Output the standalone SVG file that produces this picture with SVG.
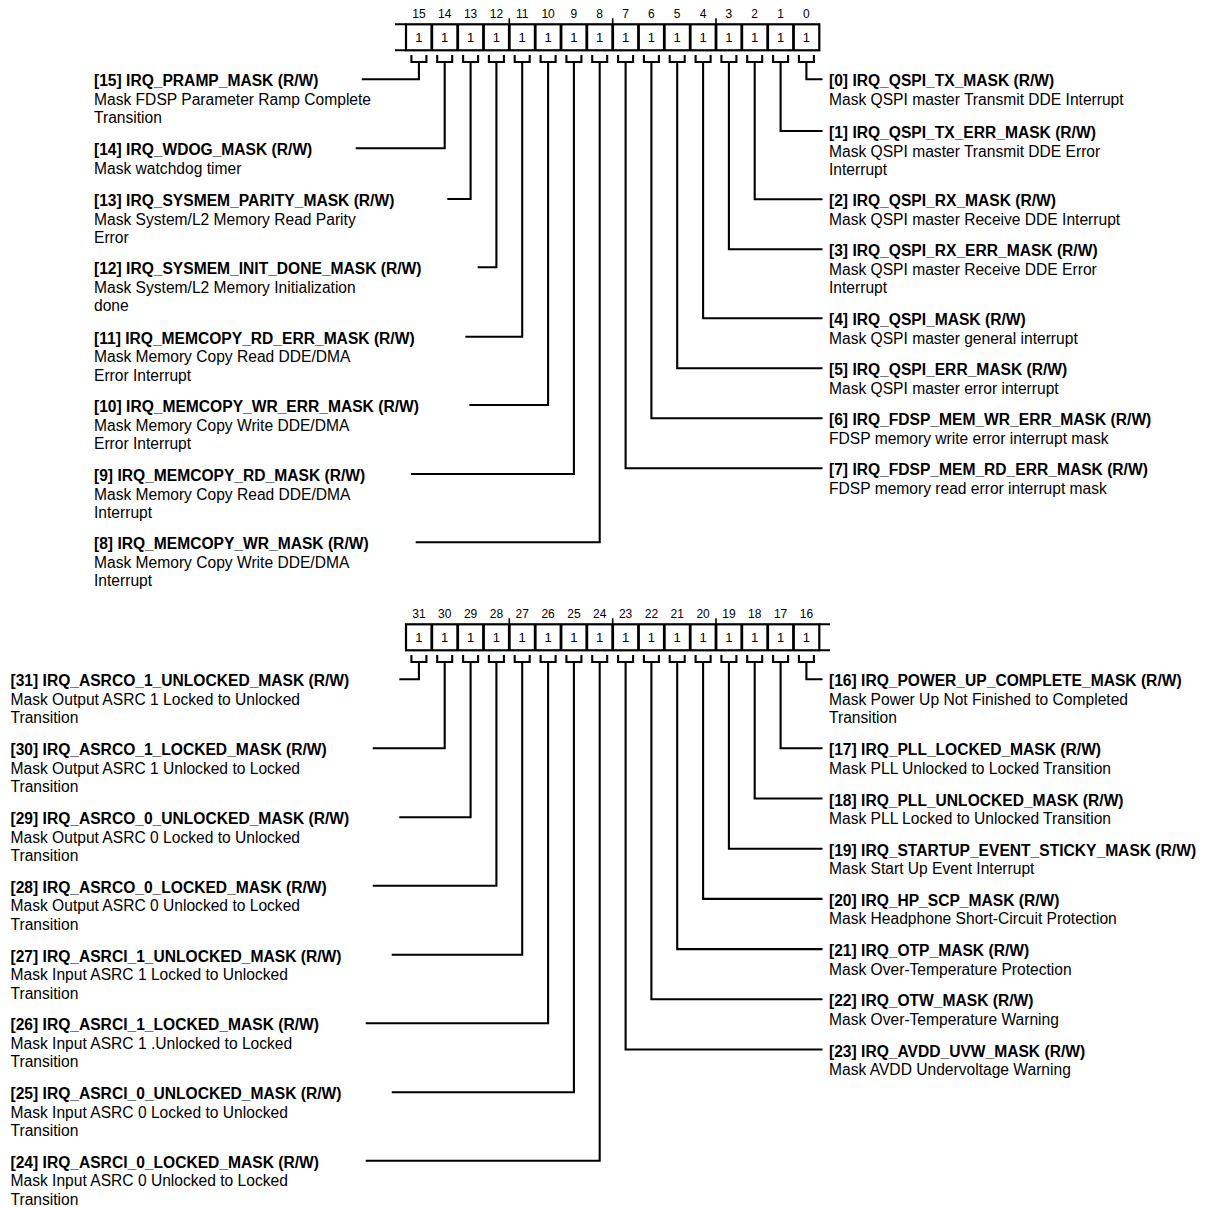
<svg xmlns="http://www.w3.org/2000/svg" width="1206" height="1207" viewBox="0 0 1206 1207">
<style>
.t{font:bold 15.6px "Liberation Sans",Arial,sans-serif;fill:#000}
.d{font:15.6px "Liberation Sans",Arial,sans-serif;fill:#000}
.n{font:12px "Liberation Sans",Arial,sans-serif;fill:#000;text-anchor:middle}
.v{font:13px "Liberation Sans",Arial,sans-serif;fill:#000;text-anchor:middle}
.f{fill:#fff;stroke:#000;stroke-width:2.2}
.dv{stroke:#000;stroke-width:2.8;fill:none}
.tk{stroke:#000;stroke-width:1.6;fill:none}
.c{fill:none;stroke:#000;stroke-width:2.1}
</style>
<rect width="1206" height="1207" fill="#fff"/>

<g id="register-low">
<path class="c" d="M395,24.3H406M395,50.3H406"/>
<rect class="f" x="406" y="24.3" width="413.3" height="26"/>
<path class="dv" d="M431.8,24.3V50.3M457.7,24.3V50.3M483.5,24.3V50.3M509.3,24.3V50.3M535.2,24.3V50.3M561,24.3V50.3M586.8,24.3V50.3M612.7,24.3V50.3M638.5,24.3V50.3M664.3,24.3V50.3M690.2,24.3V50.3M716,24.3V50.3M741.8,24.3V50.3M767.7,24.3V50.3M793.5,24.3V50.3"/>
<path class="tk" d="M509.3,18.3V24.3M612.7,18.3V24.3M716,18.3V24.3"/>
<text class="n" x="418.9" y="17.5">15</text><text class="n" x="444.7" y="17.5">14</text><text class="n" x="470.6" y="17.5">13</text><text class="n" x="496.4" y="17.5">12</text><text class="n" x="522.2" y="17.5">11</text><text class="n" x="548.1" y="17.5">10</text><text class="n" x="573.9" y="17.5">9</text><text class="n" x="599.7" y="17.5">8</text><text class="n" x="625.6" y="17.5">7</text><text class="n" x="651.4" y="17.5">6</text><text class="n" x="677.2" y="17.5">5</text><text class="n" x="703.1" y="17.5">4</text><text class="n" x="728.9" y="17.5">3</text><text class="n" x="754.7" y="17.5">2</text><text class="n" x="780.6" y="17.5">1</text><text class="n" x="806.4" y="17.5">0</text>
<text class="v" x="418.9" y="42">1</text><text class="v" x="444.7" y="42">1</text><text class="v" x="470.6" y="42">1</text><text class="v" x="496.4" y="42">1</text><text class="v" x="522.2" y="42">1</text><text class="v" x="548.1" y="42">1</text><text class="v" x="573.9" y="42">1</text><text class="v" x="599.7" y="42">1</text><text class="v" x="625.6" y="42">1</text><text class="v" x="651.4" y="42">1</text><text class="v" x="677.2" y="42">1</text><text class="v" x="703.1" y="42">1</text><text class="v" x="728.9" y="42">1</text><text class="v" x="754.7" y="42">1</text><text class="v" x="780.6" y="42">1</text><text class="v" x="806.4" y="42">1</text>
</g>

<g id="register-high">
<path class="c" d="M819.3,624.3H830M819.3,650.3H830"/>
<rect class="f" x="406" y="624.3" width="413.3" height="26"/>
<path class="dv" d="M431.8,624.3V650.3M457.7,624.3V650.3M483.5,624.3V650.3M509.3,624.3V650.3M535.2,624.3V650.3M561,624.3V650.3M586.8,624.3V650.3M612.7,624.3V650.3M638.5,624.3V650.3M664.3,624.3V650.3M690.2,624.3V650.3M716,624.3V650.3M741.8,624.3V650.3M767.7,624.3V650.3M793.5,624.3V650.3"/>
<path class="tk" d="M509.3,618.3V624.3M612.7,618.3V624.3M716,618.3V624.3"/>
<text class="n" x="418.9" y="617.5">31</text><text class="n" x="444.7" y="617.5">30</text><text class="n" x="470.6" y="617.5">29</text><text class="n" x="496.4" y="617.5">28</text><text class="n" x="522.2" y="617.5">27</text><text class="n" x="548.1" y="617.5">26</text><text class="n" x="573.9" y="617.5">25</text><text class="n" x="599.7" y="617.5">24</text><text class="n" x="625.6" y="617.5">23</text><text class="n" x="651.4" y="617.5">22</text><text class="n" x="677.2" y="617.5">21</text><text class="n" x="703.1" y="617.5">20</text><text class="n" x="728.9" y="617.5">19</text><text class="n" x="754.7" y="617.5">18</text><text class="n" x="780.6" y="617.5">17</text><text class="n" x="806.4" y="617.5">16</text>
<text class="v" x="418.9" y="642">1</text><text class="v" x="444.7" y="642">1</text><text class="v" x="470.6" y="642">1</text><text class="v" x="496.4" y="642">1</text><text class="v" x="522.2" y="642">1</text><text class="v" x="548.1" y="642">1</text><text class="v" x="573.9" y="642">1</text><text class="v" x="599.7" y="642">1</text><text class="v" x="625.6" y="642">1</text><text class="v" x="651.4" y="642">1</text><text class="v" x="677.2" y="642">1</text><text class="v" x="703.1" y="642">1</text><text class="v" x="728.9" y="642">1</text><text class="v" x="754.7" y="642">1</text><text class="v" x="780.6" y="642">1</text><text class="v" x="806.4" y="642">1</text>
</g>

<g id="connectors" class="c">
<path d="M411.4,55V62H426.4V55M418.9,62V79.3H361.7"/>
<path d="M437.2,55V62H452.2V55M444.7,62V148.3H355.7"/>
<path d="M463.1,55V62H478.1V55M470.6,62V199H447.3"/>
<path d="M488.9,55V62H503.9V55M496.4,62V267.3H477.7"/>
<path d="M514.7,55V62H529.7V55M522.2,62V336.7H465.3"/>
<path d="M540.6,55V62H555.6V55M548.1,62V405H469.3"/>
<path d="M566.4,55V62H581.4V55M573.9,62V474H411"/>
<path d="M592.2,55V62H607.2V55M599.7,62V542.3H415.7"/>
<path d="M618.1,55V62H633.1V55M625.6,62V468.3H822.5"/>
<path d="M643.9,55V62H658.9V55M651.4,62V418.3H822.5"/>
<path d="M669.7,55V62H684.7V55M677.2,62V368.3H822.5"/>
<path d="M695.6,55V62H710.6V55M703.1,62V318.3H822.5"/>
<path d="M721.4,55V62H736.4V55M728.9,62V249.3H822.5"/>
<path d="M747.2,55V62H762.2V55M754.7,62V199.3H822.5"/>
<path d="M773.1,55V62H788.1V55M780.6,62V131H822.5"/>
<path d="M798.9,55V62H813.9V55M806.4,62V79.3H822.5"/>

<path d="M411.4,655V662H426.4V655M418.9,662V679.3H399.3"/>
<path d="M437.2,655V662H452.2V655M444.7,662V748.3H372.7"/>
<path d="M463.1,655V662H478.1V655M470.6,662V817.3H399.3"/>
<path d="M488.9,655V662H503.9V655M496.4,662V885.7H372.7"/>
<path d="M514.7,655V662H529.7V655M522.2,662V954.7H391.7"/>
<path d="M540.6,655V662H555.6V655M548.1,662V1023.3H365.7"/>
<path d="M566.4,655V662H581.4V655M573.9,662V1092.3H391.7"/>
<path d="M592.2,655V662H607.2V655M599.7,662V1160.7H365.7"/>
<path d="M618.1,655V662H633.1V655M625.6,662V1049.5H822.5"/>
<path d="M643.9,655V662H658.9V655M651.4,662V999.3H822.5"/>
<path d="M669.7,655V662H684.7V655M677.2,662V949.1H822.5"/>
<path d="M695.6,655V662H710.6V655M703.1,662V898.9H822.5"/>
<path d="M721.4,655V662H736.4V655M728.9,662V848.7H822.5"/>
<path d="M747.2,655V662H762.2V655M754.7,662V798.5H822.5"/>
<path d="M773.1,655V662H788.1V655M780.6,662V748.3H822.5"/>
<path d="M798.9,655V662H813.9V655M806.4,662V679.3H822.5"/>
</g>

<g id="bit15"><text class="t" x="94" y="86.3">[15] IRQ_PRAMP_MASK (R/W)</text><text class="d" x="94" y="104.8">Mask FDSP Parameter Ramp Complete</text><text class="d" x="94" y="123.3">Transition</text></g>
<g id="bit14"><text class="t" x="94" y="155.3">[14] IRQ_WDOG_MASK (R/W)</text><text class="d" x="94" y="173.8">Mask watchdog timer</text></g>
<g id="bit13"><text class="t" x="94" y="206">[13] IRQ_SYSMEM_PARITY_MASK (R/W)</text><text class="d" x="94" y="224.5">Mask System/L2 Memory Read Parity</text><text class="d" x="94" y="243">Error</text></g>
<g id="bit12"><text class="t" x="94" y="274.3">[12] IRQ_SYSMEM_INIT_DONE_MASK (R/W)</text><text class="d" x="94" y="292.8">Mask System/L2 Memory Initialization</text><text class="d" x="94" y="311.3">done</text></g>
<g id="bit11"><text class="t" x="94" y="343.7">[11] IRQ_MEMCOPY_RD_ERR_MASK (R/W)</text><text class="d" x="94" y="362.2">Mask Memory Copy Read DDE/DMA</text><text class="d" x="94" y="380.7">Error Interrupt</text></g>
<g id="bit10"><text class="t" x="94" y="412">[10] IRQ_MEMCOPY_WR_ERR_MASK (R/W)</text><text class="d" x="94" y="430.5">Mask Memory Copy Write DDE/DMA</text><text class="d" x="94" y="449">Error Interrupt</text></g>
<g id="bit9"><text class="t" x="94" y="481">[9] IRQ_MEMCOPY_RD_MASK (R/W)</text><text class="d" x="94" y="499.5">Mask Memory Copy Read DDE/DMA</text><text class="d" x="94" y="518">Interrupt</text></g>
<g id="bit8"><text class="t" x="94" y="549.3">[8] IRQ_MEMCOPY_WR_MASK (R/W)</text><text class="d" x="94" y="567.8">Mask Memory Copy Write DDE/DMA</text><text class="d" x="94" y="586.3">Interrupt</text></g>

<g id="bit0"><text class="t" x="829" y="86.3">[0] IRQ_QSPI_TX_MASK (R/W)</text><text class="d" x="829" y="104.8">Mask QSPI master Transmit DDE Interrupt</text></g>
<g id="bit1"><text class="t" x="829" y="138">[1] IRQ_QSPI_TX_ERR_MASK (R/W)</text><text class="d" x="829" y="156.5">Mask QSPI master Transmit DDE Error</text><text class="d" x="829" y="175">Interrupt</text></g>
<g id="bit2"><text class="t" x="829" y="206.3">[2] IRQ_QSPI_RX_MASK (R/W)</text><text class="d" x="829" y="224.8">Mask QSPI master Receive DDE Interrupt</text></g>
<g id="bit3"><text class="t" x="829" y="256.3">[3] IRQ_QSPI_RX_ERR_MASK (R/W)</text><text class="d" x="829" y="274.8">Mask QSPI master Receive DDE Error</text><text class="d" x="829" y="293.3">Interrupt</text></g>
<g id="bit4"><text class="t" x="829" y="325.3">[4] IRQ_QSPI_MASK (R/W)</text><text class="d" x="829" y="343.8">Mask QSPI master general interrupt</text></g>
<g id="bit5"><text class="t" x="829" y="375.3">[5] IRQ_QSPI_ERR_MASK (R/W)</text><text class="d" x="829" y="393.8">Mask QSPI master error interrupt</text></g>
<g id="bit6"><text class="t" x="829" y="425.3">[6] IRQ_FDSP_MEM_WR_ERR_MASK (R/W)</text><text class="d" x="829" y="443.8">FDSP memory write error interrupt mask</text></g>
<g id="bit7"><text class="t" x="829" y="475.3">[7] IRQ_FDSP_MEM_RD_ERR_MASK (R/W)</text><text class="d" x="829" y="493.8">FDSP memory read error interrupt mask</text></g>

<g id="bit31"><text class="t" x="10.5" y="686.3">[31] IRQ_ASRCO_1_UNLOCKED_MASK (R/W)</text><text class="d" x="10.5" y="704.8">Mask Output ASRC 1 Locked to Unlocked</text><text class="d" x="10.5" y="723.3">Transition</text></g>
<g id="bit30"><text class="t" x="10.5" y="755.3">[30] IRQ_ASRCO_1_LOCKED_MASK (R/W)</text><text class="d" x="10.5" y="773.8">Mask Output ASRC 1 Unlocked to Locked</text><text class="d" x="10.5" y="792.3">Transition</text></g>
<g id="bit29"><text class="t" x="10.5" y="824.3">[29] IRQ_ASRCO_0_UNLOCKED_MASK (R/W)</text><text class="d" x="10.5" y="842.8">Mask Output ASRC 0 Locked to Unlocked</text><text class="d" x="10.5" y="861.3">Transition</text></g>
<g id="bit28"><text class="t" x="10.5" y="892.7">[28] IRQ_ASRCO_0_LOCKED_MASK (R/W)</text><text class="d" x="10.5" y="911.2">Mask Output ASRC 0 Unlocked to Locked</text><text class="d" x="10.5" y="929.7">Transition</text></g>
<g id="bit27"><text class="t" x="10.5" y="961.7">[27] IRQ_ASRCI_1_UNLOCKED_MASK (R/W)</text><text class="d" x="10.5" y="980.2">Mask Input ASRC 1 Locked to Unlocked</text><text class="d" x="10.5" y="998.7">Transition</text></g>
<g id="bit26"><text class="t" x="10.5" y="1030.3">[26] IRQ_ASRCI_1_LOCKED_MASK (R/W)</text><text class="d" x="10.5" y="1048.8">Mask Input ASRC 1 .Unlocked to Locked</text><text class="d" x="10.5" y="1067.3">Transition</text></g>
<g id="bit25"><text class="t" x="10.5" y="1099.3">[25] IRQ_ASRCI_0_UNLOCKED_MASK (R/W)</text><text class="d" x="10.5" y="1117.8">Mask Input ASRC 0 Locked to Unlocked</text><text class="d" x="10.5" y="1136.3">Transition</text></g>
<g id="bit24"><text class="t" x="10.5" y="1167.7">[24] IRQ_ASRCI_0_LOCKED_MASK (R/W)</text><text class="d" x="10.5" y="1186.2">Mask Input ASRC 0 Unlocked to Locked</text><text class="d" x="10.5" y="1204.7">Transition</text></g>

<g id="bit16"><text class="t" x="829" y="686.3">[16] IRQ_POWER_UP_COMPLETE_MASK (R/W)</text><text class="d" x="829" y="704.8">Mask Power Up Not Finished to Completed</text><text class="d" x="829" y="723.3">Transition</text></g>
<g id="bit17"><text class="t" x="829" y="755.3">[17] IRQ_PLL_LOCKED_MASK (R/W)</text><text class="d" x="829" y="773.8">Mask PLL Unlocked to Locked Transition</text></g>
<g id="bit18"><text class="t" x="829" y="805.5">[18] IRQ_PLL_UNLOCKED_MASK (R/W)</text><text class="d" x="829" y="824">Mask PLL Locked to Unlocked Transition</text></g>
<g id="bit19"><text class="t" x="829" y="855.7">[19] IRQ_STARTUP_EVENT_STICKY_MASK (R/W)</text><text class="d" x="829" y="874.2">Mask Start Up Event Interrupt</text></g>
<g id="bit20"><text class="t" x="829" y="905.9">[20] IRQ_HP_SCP_MASK (R/W)</text><text class="d" x="829" y="924.4">Mask Headphone Short-Circuit Protection</text></g>
<g id="bit21"><text class="t" x="829" y="956.1">[21] IRQ_OTP_MASK (R/W)</text><text class="d" x="829" y="974.6">Mask Over-Temperature Protection</text></g>
<g id="bit22"><text class="t" x="829" y="1006.3">[22] IRQ_OTW_MASK (R/W)</text><text class="d" x="829" y="1024.8">Mask Over-Temperature Warning</text></g>
<g id="bit23"><text class="t" x="829" y="1056.5">[23] IRQ_AVDD_UVW_MASK (R/W)</text><text class="d" x="829" y="1075">Mask AVDD Undervoltage Warning</text></g>
</svg>
